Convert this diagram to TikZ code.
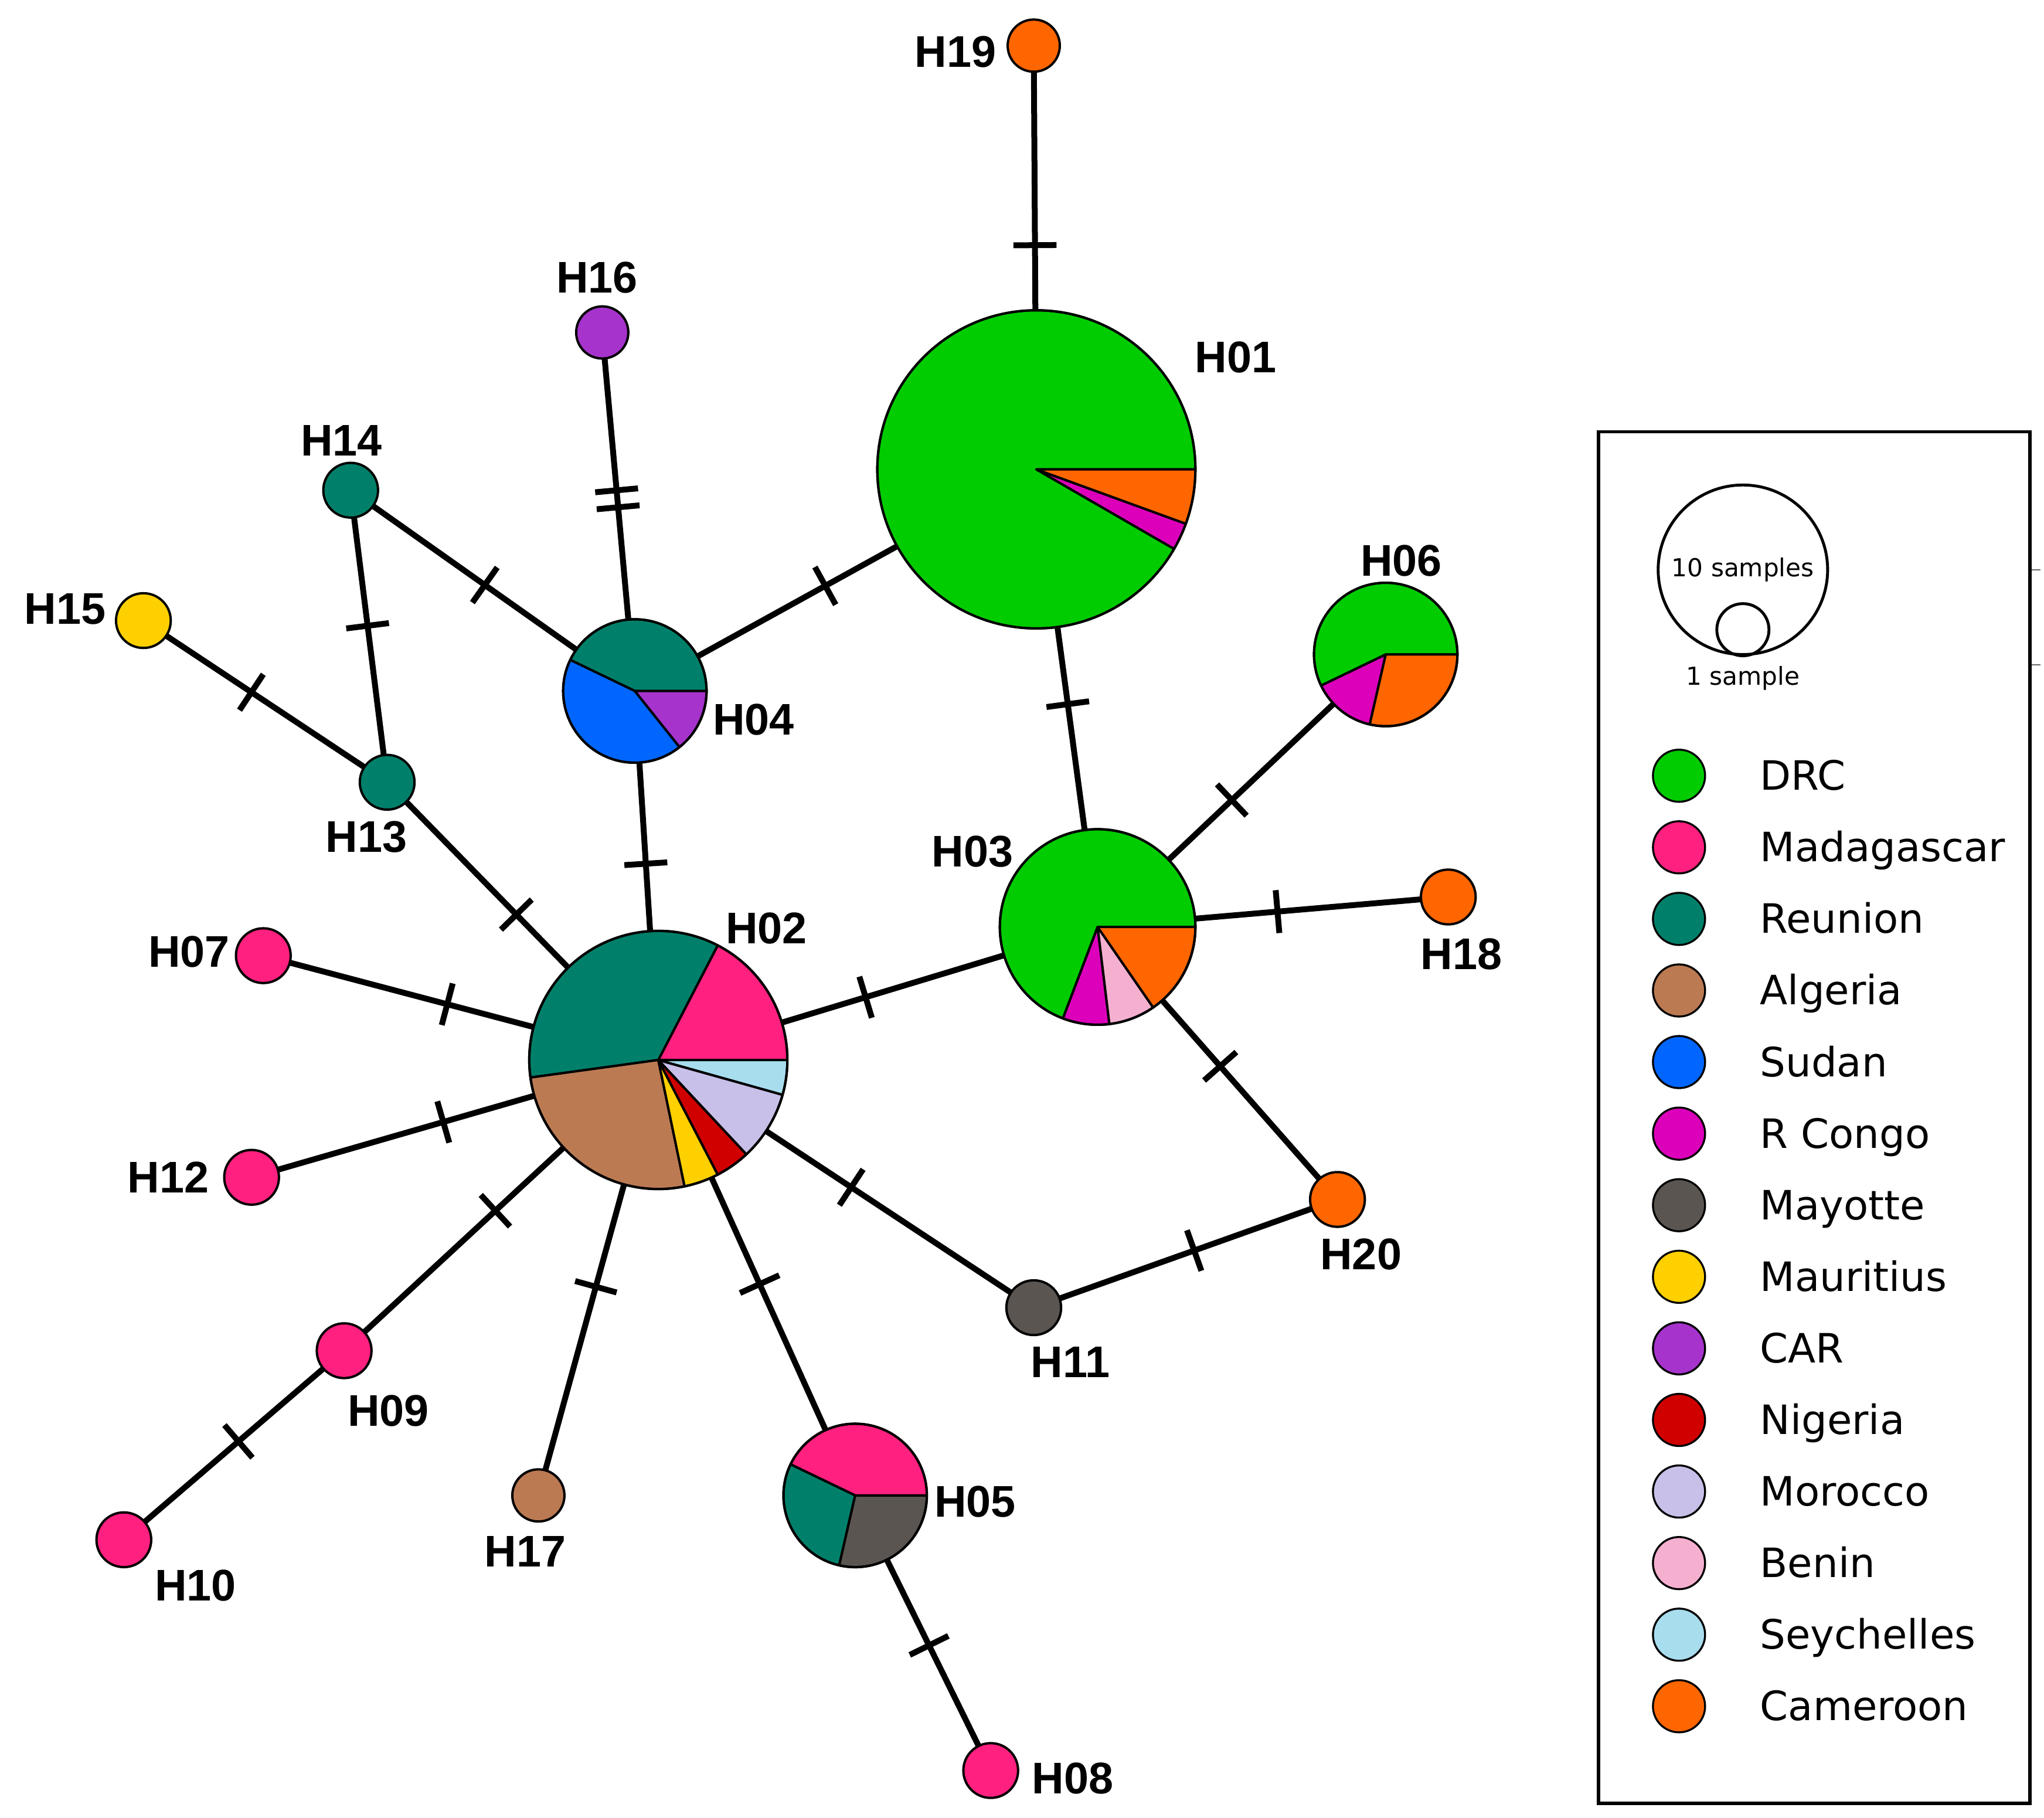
\documentclass[tikz,border=0pt]{standalone}
\usepackage{fontspec}
\setmainfont{Liberation Sans}
\newfontfamily\legfont{DejaVu Sans}
\definecolor{cDRC}{HTML}{00CC00}
\definecolor{cMAD}{HTML}{FF2080}
\definecolor{cREU}{HTML}{00806A}
\definecolor{cALG}{HTML}{BC7A53}
\definecolor{cSUD}{HTML}{0066FF}
\definecolor{cRCG}{HTML}{DD00BB}
\definecolor{cMAY}{HTML}{5A5550}
\definecolor{cMAU}{HTML}{FFD000}
\definecolor{cCAR}{HTML}{A633CC}
\definecolor{cNIG}{HTML}{D00000}
\definecolor{cMOR}{HTML}{C8C0E8}
\definecolor{cBEN}{HTML}{F5B0D0}
\definecolor{cSEY}{HTML}{A8DDEE}
\definecolor{cCAM}{HTML}{FF6600}
\tikzset{
  hap/.style={circle, inner sep=0pt, outer sep=0pt, minimum size=#1},
  edge/.style={line width=4.5pt, black},
  tick/.style={sloped, rectangle, fill=black, inner sep=0pt, minimum width=4.5pt, minimum height=33pt},
  lab/.style={font=\fontsize{34}{40}\selectfont\bfseries, anchor=center, inner sep=0pt},
  rim/.style={draw=black, line width=1.8pt},
  legtxt/.style={font=\legfont\fontsize{31}{36}\selectfont, anchor=base west, inner sep=0pt},
  legdot/.style={circle, draw=black, line width=1.5pt, minimum width=40pt, minimum height=38pt, inner sep=0pt},
}
\newcommand\pieslice[5]{%
  \fill[#5, draw=black, line width=1.8pt, line join=round] (#1.center) -- ++(-#3:#2) arc[start angle=-#3, end angle=-#4, radius=#2] -- cycle;}
\begin{document}
\begin{tikzpicture}[x=1pt, y=-1pt]
\useasboundingbox (0,0) rectangle (1568,1394);
\fill[white] (0,0) rectangle (1568,1394);
% haplotype positions
\node[hap=40pt]  (H19) at (793,35) {};
\node[hap=244pt] (H01) at (795,360) {};
\node[hap=40pt]  (H16) at (462,255) {};
\node[hap=42pt]  (H14) at (269,376) {};
\node[hap=42pt]  (H15) at (110,476) {};
\node[hap=42pt]  (H13) at (297,600) {};
\node[hap=110pt] (H04) at (487,530) {};
\node[hap=110pt] (H06) at (1063,502) {};
\node[hap=150pt] (H03) at (842,711) {};
\node[hap=42pt]  (H18) at (1111,688) {};
\node[hap=198pt] (H02) at (505,813) {};
\node[hap=42pt]  (H07) at (202,733) {};
\node[hap=42pt]  (H12) at (193,903) {};
\node[hap=42pt]  (H09) at (264,1036) {};
\node[hap=42pt]  (H10) at (95,1181) {};
\node[hap=40pt]  (H17) at (413,1147) {};
\node[hap=110pt] (H05) at (656,1147) {};
\node[hap=42pt]  (H08) at (760,1358) {};
\node[hap=42pt]  (H11) at (793,1003) {};
\node[hap=42pt]  (H20) at (1026,920) {};
% edges with mutation ticks
\draw[edge] (H19) -- node[tick, pos=0.727] {} (H01);
\draw[edge] (H01) -- node[tick, pos=0.36] {} (H04);
\draw[edge] (H01) -- node[tick, pos=0.38] {} (H03);
\draw[edge] (H16) -- node[tick, pos=0.505] {} node[tick, pos=0.57] {} (H04);
\draw[edge] (H14) -- node[tick, pos=0.55] {} (H04);
\draw[edge] (H14) -- node[tick, pos=0.456] {} (H13);
\draw[edge] (H15) -- node[tick, pos=0.43] {} (H13);
\draw[edge] (H13) -- node[tick, pos=0.68] {} (H02);
\draw[edge] (H04) -- node[tick, pos=0.60] {} (H02);
\draw[edge] (H06) -- node[tick, pos=0.617] {} (H03);
\draw[edge] (H18) -- node[tick, pos=0.635] {} (H03);
\draw[edge] (H03) -- node[tick, pos=0.369] {} (H20);
\draw[edge] (H02) -- node[tick, pos=0.377] {} (H03);
\draw[edge] (H07) -- node[tick, pos=0.646] {} (H02);
\draw[edge] (H12) -- node[tick, pos=0.645] {} (H02);
\draw[edge] (H09) -- node[tick, pos=0.658] {} (H02);
\draw[edge] (H10) -- node[tick, pos=0.525] {} (H09);
\draw[edge] (H17) -- node[tick, pos=0.642] {} (H02);
\draw[edge] (H05) -- node[tick, pos=0.578] {} (H02);
\draw[edge] (H05) -- node[tick, pos=0.46] {} (H08);
\draw[edge] (H11) -- node[tick, pos=0.652] {} (H02);
\draw[edge] (H11) -- node[tick, pos=0.534] {} (H20);
% single-colour haplotypes
\fill[cCAM, rim] (H19.center) circle (20);
\fill[cCAR, rim] (H16.center) circle (20);
\fill[cREU, rim] (H14.center) circle (21);
\fill[cMAU, rim] (H15.center) circle (21);
\fill[cREU, rim] (H13.center) circle (21);
\fill[cCAM, rim] (H18.center) circle (21);
\fill[cMAD, rim] (H07.center) circle (21);
\fill[cMAD, rim] (H12.center) circle (21);
\fill[cMAD, rim] (H09.center) circle (21);
\fill[cMAD, rim] (H10.center) circle (21);
\fill[cALG, rim] (H17.center) circle (20);
\fill[cMAD, rim] (H08.center) circle (21);
\fill[cMAY, rim] (H11.center) circle (21);
\fill[cCAM, rim] (H20.center) circle (21);
% pies
\pieslice{H01}{122}{0}{330}{cDRC}
\pieslice{H01}{122}{330}{340}{cRCG}
\pieslice{H01}{122}{340}{360}{cCAM}
\draw[rim] (H01.center) circle (122);
\pieslice{H02}{99}{0}{62.61}{cMAD}
\pieslice{H02}{99}{62.61}{187.83}{cREU}
\pieslice{H02}{99}{187.83}{281.74}{cALG}
\pieslice{H02}{99}{281.74}{297.39}{cMAU}
\pieslice{H02}{99}{297.39}{313.04}{cNIG}
\pieslice{H02}{99}{313.04}{344.35}{cMOR}
\pieslice{H02}{99}{344.35}{360}{cSEY}
\draw[rim] (H02.center) circle (99);
\pieslice{H03}{75}{0}{249.23}{cDRC}
\pieslice{H03}{75}{249.23}{276.92}{cRCG}
\pieslice{H03}{75}{276.92}{304.62}{cBEN}
\pieslice{H03}{75}{304.62}{360}{cCAM}
\draw[rim] (H03.center) circle (75);
\pieslice{H04}{55}{0}{154.29}{cREU}
\pieslice{H04}{55}{154.29}{308.57}{cSUD}
\pieslice{H04}{55}{308.57}{360}{cCAR}
\draw[rim] (H04.center) circle (55);
\pieslice{H05}{55}{0}{154.29}{cMAD}
\pieslice{H05}{55}{154.29}{257.14}{cREU}
\pieslice{H05}{55}{257.14}{360}{cMAY}
\draw[rim] (H05.center) circle (55);
\pieslice{H06}{55}{0}{205.71}{cDRC}
\pieslice{H06}{55}{205.71}{257.14}{cRCG}
\pieslice{H06}{55}{257.14}{360}{cCAM}
\draw[rim] (H06.center) circle (55);
% labels
\node[lab] (L19) at (733,40) {H19};
\node[lab] (L01) at (948,274) {H01};
\node[lab] (L16) at (458,213) {H16};
\node[lab] (L14) at (262,338) {H14};
\node[lab] (L15) at (50,467) {H15};
\node[lab] (L13) at (281,642) {H13};
\node[lab] (L04) at (578,552) {H04};
\node[lab] (L06) at (1075,430) {H06};
\node[lab] (L03) at (746,653) {H03};
\node[lab] (L18) at (1121,732) {H18};
\node[lab] (L02) at (588,712) {H02};
\node[lab] (L07) at (145,730) {H07};
\node[lab] (L12) at (129,903) {H12};
\node[lab] (L09) at (298,1082) {H09};
\node[lab] (L10) at (150,1216) {H10};
\node[lab] (L17) at (403,1190) {H17};
\node[lab] (L05) at (748,1152) {H05};
\node[lab] (L08) at (823,1364) {H08};
\node[lab] (L11) at (821,1045) {H11};
\node[lab] (L20) at (1044,962) {H20};
% legend
\node[draw=black, line width=2.5pt, minimum width=331pt, minimum height=1052pt, inner sep=0pt, anchor=north west] (legend) at (1225,330) {};
\draw[line width=1pt, black!60] (legend.east |- 0,437) -- ++(7,0);
\draw[line width=1pt, black!60] (legend.east |- 0,510) -- ++(7,0);
\node[circle, draw=black, line width=2.2pt, minimum size=130pt, inner sep=0pt] (big) at (1337,437) {};
\node[circle, draw=black, line width=2.2pt, minimum size=40pt, inner sep=0pt] (small) at (1337,483) {};
\node[font=\legfont\fontsize{19}{22}\selectfont, inner sep=0pt] (t10) at (1337,437) {10 samples};
\node[font=\legfont\fontsize{19}{22}\selectfont, inner sep=0pt] (t1) at (1337,520) {1 sample};
\foreach \n/\c/\t [count=\i from 0] in {a/cDRC/DRC, b/cMAD/Madagascar, c/cREU/Reunion, d/cALG/Algeria, e/cSUD/Sudan, f/cRCG/R Congo, g/cMAY/Mayotte, h/cMAU/Mauritius, i/cCAR/CAR, j/cNIG/Nigeria, k/cMOR/Morocco, l/cBEN/Benin, m/cSEY/Seychelles, n/cCAM/Cameroon}{
  \node[legdot, fill=\c] (d\n) at (1288, 595+54.9*\i) {};
  \node[legtxt] (t\n) at (1350, 606+54.9*\i) {\t};
}
\end{tikzpicture}
\end{document}
